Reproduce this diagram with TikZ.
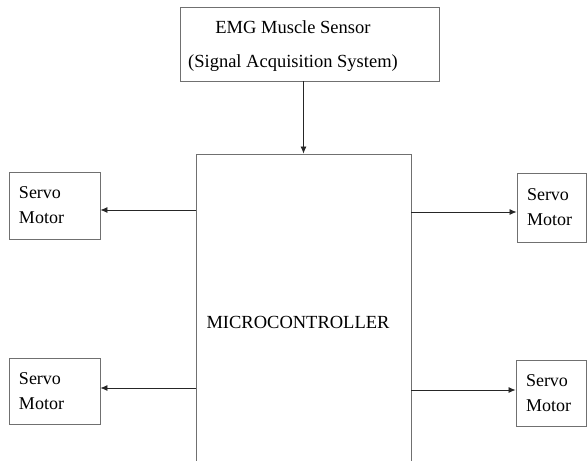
\documentclass[tikz,border=0pt]{standalone}
\usepackage{fontspec}
\setmainfont{Liberation Serif}
\usetikzlibrary{arrows.meta, positioning}

\begin{document}
\begin{tikzpicture}[x=1pt, y=-1pt, font=\fontsize{18}{25}\selectfont]
  \definecolor{boxgray}{HTML}{707070}
  \tikzset{
    block/.style={draw=boxgray, line width=0.9pt, inner sep=0pt},
    servo/.style={block, align=left, inner xsep=10pt},
    link/.style={-{Latex[length=7pt, width=6pt]}, line width=0.8pt, black!85}
  }
  \useasboundingbox (0,0) rectangle (587,461);
  \clip (0,0) rectangle (587,461);

  % sensor block
  \node[block, minimum width=259pt, minimum height=74pt] (sensor) at (309.5,44) {};
  \node[align=center, font=\fontsize{18.5}{34}\selectfont] (sensortext) at (293,46) {EMG Muscle Sensor\\(Signal Acquisition System)};

  % microcontroller (runs past the bottom edge)
  \node[block, minimum width=215pt, minimum height=336pt] (mcu) at (303.5,322) {};
  \node[font=\fontsize{18.5}{25}\selectfont] (mcutext) at (298,322) {MICROCONTROLLER};

  % servo motors
  \node[servo, minimum width=91pt, minimum height=67pt, text width=71pt] (servoLT) at (54.5,205.5) {Servo\\Motor};
  \node[servo, minimum width=69pt, minimum height=69pt, text width=49pt] (servoRT) at (551.5,207.5) {Servo\\Motor};
  \node[servo, minimum width=91pt, minimum height=66pt, text width=71pt] (servoLB) at (54.5,391) {Servo\\Motor};
  \node[servo, minimum width=70pt, minimum height=66pt, text width=50pt] (servoRB) at (551,393) {Servo\\Motor};

  % connections
  \draw[link] (sensor.south -| mcu.north) -- (mcu.north);
  \draw[link] ([yshift=-4.5pt]servoLT.east -| mcu.west) -- ([yshift=-4.5pt]servoLT.east);
  \draw[link] ([yshift=-4.5pt]servoRT.west -| mcu.east) -- ([yshift=-4.5pt]servoRT.west);
  \draw[link] ([yshift=3pt]servoLB.east -| mcu.west) -- ([yshift=3pt]servoLB.east);
  \draw[link] ([yshift=3pt]servoRB.west -| mcu.east) -- ([yshift=3pt]servoRB.west);
\end{tikzpicture}
\end{document}
